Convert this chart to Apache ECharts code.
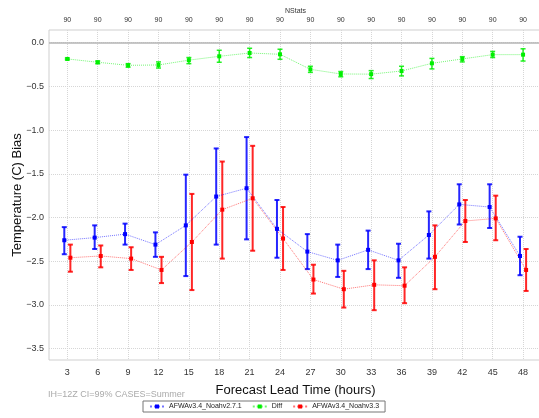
<!DOCTYPE html>
<html>
<head>
<meta charset="utf-8">
<script src="https://cdn.jsdelivr.net/npm/echarts@6/dist/echarts.min.js"></script>
<style>
  html, body { margin: 0; padding: 0; background: #fff; }
  #chart { width: 539px; height: 418px; }
</style>
</head>
<body>
<div id="chart"></div>
<script>
// lead times (hours) and sample counts shown on the top axis
const hours = [3, 6, 9, 12, 15, 18, 21, 24, 27, 30, 33, 36, 39, 42, 45, 48];
const nstats = [90, 90, 90, 90, 90, 90, 90, 90, 90, 90, 90, 90, 90, 90, 90, 90];
const yTicks = [-3.5, -3.0, -2.5, -2.0, -1.5, -1.0, -0.5, 0.0];

// AFWAv3.4_Noahv2.7.1
const noah271 = [-2.26, -2.23, -2.19, -2.31, -2.09, -1.76, -1.665, -2.13, -2.39, -2.49, -2.37, -2.49, -2.20, -1.85, -1.88, -2.44];
const noah271Lo = [-2.42, -2.36, -2.31, -2.45, -2.67, -2.31, -2.25, -2.46, -2.59, -2.68, -2.59, -2.69, -2.47, -2.08, -2.12, -2.66];
const noah271Hi = [-2.11, -2.09, -2.07, -2.17, -1.51, -1.21, -1.08, -1.80, -2.19, -2.31, -2.15, -2.30, -1.93, -1.62, -1.62, -2.22];

// AFWAv3.4_Noahv3.3
const noah33 = [-2.46, -2.44, -2.47, -2.60, -2.28, -1.91, -1.78, -2.24, -2.71, -2.82, -2.77, -2.78, -2.45, -2.04, -2.01, -2.60];
const noah33Lo = [-2.62, -2.57, -2.60, -2.75, -2.83, -2.47, -2.38, -2.60, -2.87, -3.03, -3.06, -2.98, -2.82, -2.28, -2.26, -2.84];
const noah33Hi = [-2.31, -2.32, -2.34, -2.45, -1.73, -1.36, -1.18, -1.88, -2.54, -2.61, -2.49, -2.57, -2.09, -1.80, -1.75, -2.36];

// Diff
const diff = [-0.186, -0.224, -0.259, -0.255, -0.20, -0.156, -0.118, -0.133, -0.305, -0.358, -0.36, -0.324, -0.236, -0.186, -0.137, -0.137];
const diffLo = [-0.196, -0.24, -0.28, -0.29, -0.24, -0.224, -0.17, -0.19, -0.34, -0.39, -0.41, -0.38, -0.30, -0.22, -0.17, -0.21];
const diffHi = [-0.176, -0.21, -0.24, -0.22, -0.17, -0.087, -0.064, -0.075, -0.27, -0.33, -0.32, -0.27, -0.18, -0.16, -0.10, -0.07];

const FONT = '"Liberation Sans", Arial, sans-serif';
const BLUE = '#0000ff', RED = '#ff0000', GREEN = '#00ee00';

const chart = echarts.init(document.getElementById('chart'), null, { renderer: 'canvas' });

function lineSeries(name, color, offset, vals) {
  return {
    name: name,
    type: 'line',
    xAxisIndex: 0,
    data: hours.map((h, i) => [h + offset, vals[i]]),
    symbol: 'rect',
    symbolSize: 4,
    itemStyle: { color: color },
    lineStyle: { color: color, type: 'dotted', width: 1, opacity: 0.55 },
    z: 4,
  };
}

function errorSeries(name, color, offset, lo, hi, width) {
  return {
    name: name,
    type: 'custom',
    xAxisIndex: 0,
    data: hours.map((h, i) => [h + offset, lo[i], hi[i]]),
    encode: { x: 0, y: [1, 2] },
    renderItem: function (params, api) {
      const x = api.value(0);
      const a = api.coord([x, api.value(1)]);
      const b = api.coord([x, api.value(2)]);
      const hw = 2.5;
      const style = { stroke: color, lineWidth: width, opacity: 0.85 };
      return {
        type: 'group',
        children: [
          { type: 'line', shape: { x1: a[0], y1: a[1], x2: b[0], y2: b[1] }, style: style },
          { type: 'line', shape: { x1: a[0] - hw, y1: a[1], x2: a[0] + hw, y2: a[1] }, style: style },
          { type: 'line', shape: { x1: b[0] - hw, y1: b[1], x2: b[0] + hw, y2: b[1] }, style: style },
        ],
      };
    },
    z: 3,
  };
}

const blueLine = lineSeries('AFWAv3.4_Noahv2.7.1', BLUE, -0.3, noah271);
const greenLine = lineSeries('Diff', GREEN, 0, diff);
const redLine = lineSeries('AFWAv3.4_Noahv3.3', RED, 0.3, noah33);

// solid reference line at zero
greenLine.markLine = {
  silent: true,
  symbol: 'none',
  label: { show: false },
  lineStyle: { color: '#b5b5b5', type: 'solid', width: 1.5 },
  data: [{ yAxis: 0 }],
};

const option = {
  animation: false,
  backgroundColor: '#fff',
  grid: {
    left: 49, top: 30, width: 493, height: 330,
    containLabel: false, outerBoundsMode: 'none',
    show: true, borderColor: '#cfcfcf', borderWidth: 1,
  },
  xAxis: [
    {
      type: 'value',
      position: 'bottom',
      min: 1.19,
      max: 49.87,
      name: 'Forecast Lead Time (hours)',
      nameLocation: 'middle',
      nameGap: 24,
      nameMoveOverlap: false,
      nameTextStyle: { fontFamily: FONT, fontSize: 13, color: '#111' },
      axisLine: { show: false },
      axisTick: { show: false, customValues: hours },
      axisLabel: { customValues: hours, fontFamily: FONT, fontSize: 9, color: '#333', margin: 8 },
      splitLine: { show: true, lineStyle: { color: '#d6d6d6', type: 'dotted' } },
    },
    {
      type: 'value',
      position: 'top',
      min: 1.19,
      max: 49.87,
      name: 'NStats',
      nameLocation: 'middle',
      nameGap: 15,
      nameMoveOverlap: false,
      nameTextStyle: { fontFamily: FONT, fontSize: 7, color: '#333' },
      axisLine: { show: false },
      axisTick: { show: false, customValues: hours },
      axisLabel: {
        customValues: hours,
        fontFamily: FONT,
        fontSize: 7,
        color: '#333',
        margin: 6,
        formatter: (v) => String(nstats[hours.indexOf(v)]),
      },
      splitLine: { show: false },
    },
  ],
  yAxis: {
    type: 'value',
    min: -3.63,
    max: 0.145,
    name: 'Temperature (C) Bias',
    nameLocation: 'middle',
    nameGap: 25,
    nameMoveOverlap: false,
    nameTextStyle: { fontFamily: FONT, fontSize: 13, color: '#111' },
    axisLine: { show: false },
    axisTick: { show: false, customValues: yTicks },
    axisLabel: {
      customValues: yTicks,
      fontFamily: FONT,
      fontSize: 9,
      color: '#333',
      margin: 5,
      formatter: (v) => (v < 0 ? '\u2212' : '') + Math.abs(v).toFixed(1),
    },
    splitLine: { show: true, lineStyle: { color: '#d6d6d6', type: 'dotted' } },
  },
  legend: {
    data: ['AFWAv3.4_Noahv2.7.1', 'Diff', 'AFWAv3.4_Noahv3.3'],
    left: 143,
    top: 401,
    orient: 'horizontal',
    padding: [2, 6],
    itemGap: 10,
    itemWidth: 14,
    itemHeight: 5,
    borderColor: '#777',
    borderWidth: 1,
    textStyle: { fontFamily: FONT, fontSize: 7, color: '#222', width: 73 },
  },
  graphic: [
    {
      type: 'text',
      left: 48,
      top: 390,
      style: { text: 'IH=12Z CI=99% CASES=Summer', fontFamily: FONT, fontSize: 9, fill: '#aaa' },
    },
  ],
  series: [
    errorSeries('ci271', BLUE, -0.3, noah271Lo, noah271Hi, 2),
    errorSeries('ciDiff', GREEN, 0, diffLo, diffHi, 1.5),
    errorSeries('ci33', RED, 0.3, noah33Lo, noah33Hi, 2),
    blueLine,
    greenLine,
    redLine,
  ],
};

chart.setOption(option);
</script>
</body>
</html>
